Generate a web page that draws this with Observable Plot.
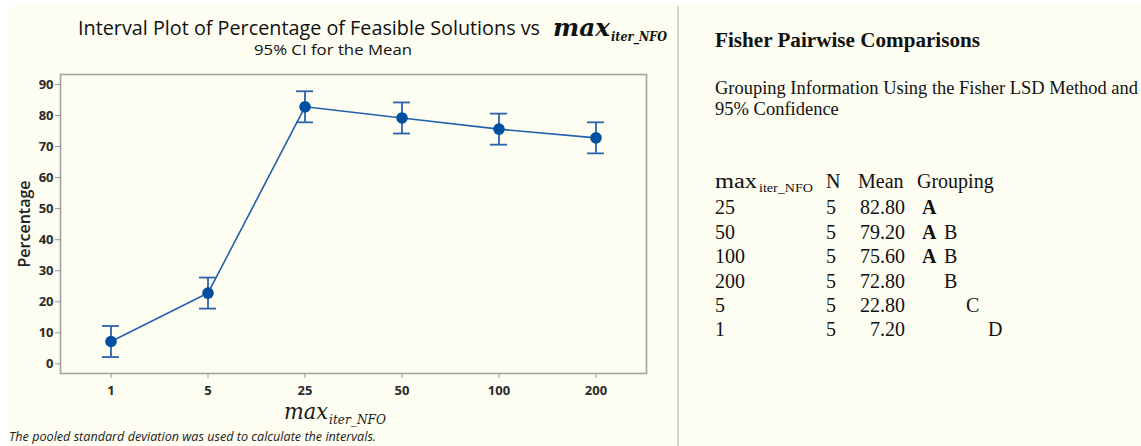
<!DOCTYPE html>
<html><head><meta charset="utf-8">
<script src="https://cdn.jsdelivr.net/npm/d3@7"></script>
<script src="https://cdn.jsdelivr.net/npm/@observablehq/plot@0.6"></script>
<style>
html,body{margin:0;padding:0;background:#fff;}
#page{position:relative;width:1141px;height:446px;overflow:hidden;background:#fff;}
#panel{position:absolute;left:9px;top:6px;width:1132px;height:440px;background:#fdfdf1;}
#sep{position:absolute;left:677px;top:6px;width:1.5px;height:440px;background:#d8d8cf;}
#chart{position:absolute;left:0;top:62px;}
.t{position:absolute;white-space:nowrap;line-height:1;transform-origin:left top;}
#chart svg g[aria-label="y-axis label"] text{font-size:16px;font-weight:600;fill:#222;}
</style></head>
<body><div id="page"><div id="panel"></div><div id="sep"></div><div id="chart"></div></div>
<script>
// ---- data ----
const levels = ["1", "5", "25", "50", "100", "200"];
const means  = [7.2, 22.8, 82.8, 79.2, 75.6, 72.8];
const ciLow  = [2.2, 17.8, 77.8, 74.2, 70.6, 67.8];
const ciHigh = [12.2, 27.8, 87.8, 84.2, 80.6, 77.8];
const yTicks = [0, 10, 20, 30, 40, 50, 60, 70, 80, 90];

const tblLevels = ["25", "50", "100", "200", "5", "1"];
const tblN      = ["5", "5", "5", "5", "5", "5"];
const tblMeans  = ["82.80", "79.20", "75.60", "72.80", "22.80", "7.20"];
const tblGroups = [["A"], ["A", "B"], ["A", "B"], ["B"], ["C"], ["D"]];
const groupLetters = ["A", "B", "C", "D"];

const data = levels.map((l, i) => ({level: l, mean: means[i], lo: ciLow[i], hi: ciHigh[i]}));

const blue = "#2a63ad";
const chart = Plot.plot({
  width: 677, height: 365,
  marginLeft: 60, marginRight: 31, marginTop: 12, marginBottom: 54,
  style: {background: "transparent", fontFamily: "'Open Sans', sans-serif", fontSize: "13px", color: "#333"},
  x: {type: "band", domain: levels, paddingInner: 0.826, paddingOuter: 0.4256, label: null},
  y: {domain: [-3.1, 93.2], label: "Percentage"},
  marks: [
    Plot.frame({stroke: "#a3a3a3", strokeWidth: 1.6}),
    Plot.axisX({tickSize: 5, tickPadding: 7, fontWeight: "bold", stroke: "#999", fill: "#2a2a2a", label: null}),
    Plot.axisY({ticks: yTicks, tickSize: 5, tickPadding: 2, fontWeight: "bold", stroke: "#999", fill: "#2a2a2a",
      label: "Percentage", labelAnchor: "center", labelOffset: 42, labelArrow: false}),
    Plot.line(data, {x: "level", y: "mean", stroke: "#2360ad", strokeWidth: 1.6}),
    Plot.ruleX(data, {x: "level", y1: "lo", y2: "hi", stroke: blue, strokeWidth: 1.8}),
    Plot.tickY(data, {x: "level", y: "lo", stroke: blue, strokeWidth: 1.8}),
    Plot.tickY(data, {x: "level", y: "hi", stroke: blue, strokeWidth: 1.8}),
    Plot.dot(data, {x: "level", y: "mean", r: 5.8, fill: "#0050a0"})
  ]
});
document.getElementById("chart").appendChild(chart);

// ---- text helpers ----
const page = document.getElementById("page");
const items = [];
function txt(str, x, baseline, style, fitW, anchor) {
  const el = document.createElement("div");
  el.className = "t";
  el.textContent = str;
  Object.assign(el.style, style || {});
  page.appendChild(el);
  items.push({el, x, baseline, fitW, anchor});
  return el;
}
function layout() {
  for (const it of items) {
    const el = it.el;
    el.style.transform = "none";
    el.style.left = "0px"; el.style.top = "0px";
    const m = document.createElement("span");
    m.style.display = "inline-block"; m.style.width = "0"; m.style.height = "0"; m.style.verticalAlign = "baseline";
    el.appendChild(m);
    const off = m.offsetTop;
    el.removeChild(m);
    let w = el.getBoundingClientRect().width;
    if (it.fitW && w > 0) { el.style.transform = `scaleX(${it.fitW / w})`; w = it.fitW; }
    el.style.left = (it.anchor === "end" ? it.x - w : it.x) + "px";
    el.style.top = (it.baseline - off) + "px";
  }
}

const sans = "'Open Sans', sans-serif";
const serif = "'Liberation Serif', 'Times New Roman', serif";
const math = "'DejaVu Serif', serif";

// left panel titles
txt("Interval Plot of Percentage of Feasible Solutions vs", 78, 35, {fontFamily: sans, fontSize: "20px", color: "#111"}, 462);
txt("max", 553, 36, {fontFamily: math, fontSize: "24px", fontStyle: "italic", fontWeight: "bold", color: "#111"}, 57);
txt("iter_NFO", 611, 41, {fontFamily: math, fontSize: "13px", fontStyle: "italic", fontWeight: "bold", color: "#111"}, 56);
txt("95% CI for the Mean", 254, 55, {fontFamily: sans, fontSize: "15px", color: "#111"}, 158);
// x-axis label
txt("max", 284, 419, {fontFamily: math, fontSize: "22px", fontStyle: "italic", color: "#1a1a1a"}, 44);
txt("iter_NFO", 329, 424, {fontFamily: math, fontSize: "13px", fontStyle: "italic", color: "#1a1a1a"}, 57);
// footnote
txt("The pooled standard deviation was used to calculate the intervals.", 9, 441, {fontFamily: sans, fontSize: "13px", fontStyle: "italic", color: "#1a1a1a"}, 367);

// right panel
txt("Fisher Pairwise Comparisons", 715, 47, {fontFamily: serif, fontSize: "20px", fontWeight: "bold", color: "#111"}, 265);
txt("Grouping Information Using the Fisher LSD Method and", 715, 94, {fontFamily: serif, fontSize: "18.5px", color: "#111"}, 423);
txt("95% Confidence", 715, 115, {fontFamily: serif, fontSize: "18.5px", color: "#111"});

const rowStyle = {fontFamily: serif, fontSize: "20px", color: "#111"};
txt("max", 715, 188, rowStyle, 42);
txt("iter_NFO", 759, 192, {fontFamily: serif, fontSize: "13px", color: "#111"}, 54);
txt("N", 826, 188, rowStyle);
txt("Mean", 858, 188, rowStyle);
txt("Grouping", 917, 188, rowStyle);
const rowBase = [214, 238.5, 263, 287.5, 312, 336];
tblLevels.forEach((lv, i) => {
  const b = rowBase[i];
  txt(lv, 715, b, rowStyle);
  txt(tblN[i], 826, b, rowStyle);
  txt(tblMeans[i], 905, b, rowStyle, null, "end");
  tblGroups[i].forEach(g => {
    const k = groupLetters.indexOf(g);
    txt(g, 922 + 22 * k, b, Object.assign({}, rowStyle, {fontWeight: g === "A" ? "bold" : "normal"}));
  });
});

layout();
if (document.fonts && document.fonts.ready) document.fonts.ready.then(layout);
</script>
</body></html>
